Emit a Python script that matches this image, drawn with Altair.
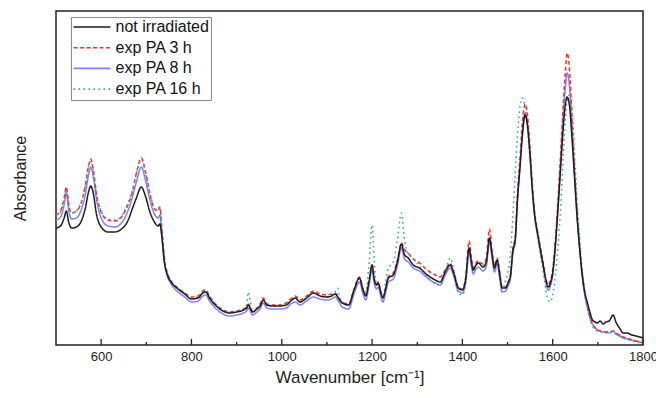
import altair as alt
import pandas as pd

# Wavenumber grid [cm^-1]
wavenumber = [500, 510, 518, 523, 528, 535, 545, 555, 565, 572, 577, 582, 590, 600, 615, 630, 645, 660, 668, 678,
              689, 698, 708, 718, 726, 730, 734, 740, 746, 755, 770, 785, 800, 815, 825, 832, 840, 855, 870, 885,
              900, 915, 922, 926, 930, 935, 945, 952, 959, 967, 980, 995, 1010, 1020, 1030, 1040, 1055, 1070, 1085, 1100,
              1110, 1118, 1124, 1128, 1134, 1148, 1160, 1172, 1180, 1186, 1193, 1200, 1205, 1210, 1214, 1218, 1224, 1230, 1236, 1247,
              1256, 1265, 1272, 1280, 1291, 1305, 1322, 1340, 1351, 1362, 1373, 1380, 1391, 1400, 1407, 1415, 1420, 1424, 1430, 1435,
              1446, 1453, 1460, 1466, 1471, 1477, 1482, 1488, 1496, 1501, 1506, 1512, 1517, 1522, 1528, 1533, 1539, 1544, 1549, 1555,
              1560, 1566, 1573, 1579, 1585, 1590, 1595, 1600, 1606, 1612, 1618, 1623, 1628, 1632, 1637, 1643, 1648, 1654, 1660, 1665,
              1671, 1677, 1683, 1688, 1694, 1699, 1705, 1712, 1718, 1725, 1734, 1740, 1748, 1756, 1765, 1775, 1785, 1793, 1800]

not_irradiated = [1.17, 1.19, 1.27, 1.34, 1.23, 1.17, 1.18, 1.23, 1.37, 1.53, 1.59, 1.53, 1.30, 1.18, 1.13, 1.13, 1.16, 1.25, 1.35, 1.47,
                  1.58, 1.49, 1.33, 1.23, 1.19, 1.21, 1.10, 0.83, 0.71, 0.63, 0.56, 0.51, 0.46, 0.47, 0.52, 0.53, 0.47, 0.39, 0.34, 0.32,
                  0.33, 0.35, 0.37, 0.40, 0.37, 0.33, 0.36, 0.39, 0.45, 0.40, 0.39, 0.39, 0.40, 0.44, 0.47, 0.43, 0.47, 0.52, 0.49, 0.48,
                  0.49, 0.51, 0.48, 0.45, 0.42, 0.40, 0.55, 0.67, 0.55, 0.49, 0.63, 0.80, 0.65, 0.60, 0.62, 0.55, 0.47, 0.56, 0.67, 0.70,
                  0.83, 1.01, 0.90, 0.87, 0.80, 0.77, 0.70, 0.65, 0.63, 0.73, 0.80, 0.73, 0.57, 0.55, 0.65, 0.97, 0.83, 0.75, 0.80, 0.82,
                  0.78, 0.83, 1.07, 0.90, 0.77, 0.85, 0.73, 0.57, 0.57, 0.62, 0.68, 0.95, 1.05, 1.45, 1.80, 2.10, 2.30, 2.20, 1.95, 1.55,
                  1.30, 1.13, 0.95, 0.80, 0.65, 0.58, 0.62, 0.72, 1.00, 1.38, 1.80, 2.15, 2.40, 2.48, 2.40, 2.05, 1.70, 1.28, 0.95, 0.72,
                  0.53, 0.42, 0.32, 0.25, 0.23, 0.22, 0.24, 0.21, 0.23, 0.24, 0.30, 0.23, 0.17, 0.12, 0.12, 0.10, 0.09, 0.08, 0.07]

exp_pa_3h = [1.30, 1.34, 1.47, 1.58, 1.41, 1.32, 1.34, 1.41, 1.60, 1.79, 1.86, 1.77, 1.50, 1.33, 1.25, 1.24, 1.28, 1.41, 1.51, 1.72,
             1.87, 1.74, 1.51, 1.36, 1.34, 1.38, 1.19, 0.87, 0.73, 0.64, 0.57, 0.52, 0.48, 0.49, 0.54, 0.55, 0.49, 0.40, 0.35, 0.33,
             0.34, 0.36, 0.38, 0.41, 0.38, 0.34, 0.37, 0.41, 0.47, 0.41, 0.40, 0.40, 0.42, 0.46, 0.49, 0.45, 0.49, 0.54, 0.51, 0.50,
             0.51, 0.52, 0.49, 0.46, 0.43, 0.41, 0.56, 0.68, 0.56, 0.50, 0.64, 0.80, 0.66, 0.61, 0.63, 0.56, 0.48, 0.57, 0.68, 0.72,
             0.85, 1.02, 0.95, 0.92, 0.86, 0.82, 0.75, 0.70, 0.68, 0.75, 0.82, 0.75, 0.58, 0.56, 0.67, 1.04, 0.87, 0.77, 0.82, 0.84,
             0.81, 0.87, 1.16, 0.93, 0.79, 0.87, 0.75, 0.58, 0.58, 0.63, 0.69, 0.97, 1.09, 1.52, 1.90, 2.23, 2.41, 2.30, 2.02, 1.60,
             1.33, 1.15, 0.97, 0.82, 0.66, 0.60, 0.65, 0.75, 1.05, 1.47, 1.95, 2.37, 2.73, 2.92, 2.77, 2.25, 1.80, 1.33, 0.97, 0.73,
             0.53, 0.39, 0.27, 0.21, 0.17, 0.15, 0.14, 0.13, 0.13, 0.13, 0.14, 0.12, 0.10, 0.08, 0.07, 0.05, 0.04, 0.03, 0.02]

exp_pa_8h = [1.25, 1.28, 1.40, 1.52, 1.35, 1.26, 1.27, 1.34, 1.51, 1.70, 1.78, 1.70, 1.45, 1.27, 1.19, 1.18, 1.22, 1.35, 1.46, 1.63,
             1.78, 1.65, 1.45, 1.31, 1.27, 1.30, 1.12, 0.83, 0.70, 0.61, 0.53, 0.48, 0.43, 0.44, 0.49, 0.50, 0.44, 0.36, 0.31, 0.29,
             0.30, 0.32, 0.34, 0.37, 0.34, 0.30, 0.33, 0.36, 0.42, 0.37, 0.36, 0.36, 0.37, 0.41, 0.43, 0.40, 0.44, 0.48, 0.46, 0.45,
             0.46, 0.48, 0.45, 0.42, 0.38, 0.36, 0.51, 0.63, 0.51, 0.45, 0.59, 0.75, 0.61, 0.56, 0.58, 0.51, 0.43, 0.52, 0.63, 0.66,
             0.79, 0.97, 0.86, 0.83, 0.77, 0.74, 0.67, 0.62, 0.60, 0.70, 0.77, 0.70, 0.54, 0.52, 0.62, 0.93, 0.79, 0.71, 0.76, 0.78,
             0.74, 0.79, 1.03, 0.86, 0.73, 0.81, 0.69, 0.53, 0.54, 0.59, 0.65, 0.92, 1.03, 1.45, 1.82, 2.14, 2.32, 2.22, 1.95, 1.55,
             1.29, 1.11, 0.93, 0.78, 0.62, 0.55, 0.59, 0.70, 1.00, 1.40, 1.87, 2.27, 2.57, 2.72, 2.60, 2.15, 1.75, 1.30, 0.95, 0.70,
             0.50, 0.37, 0.27, 0.21, 0.17, 0.15, 0.14, 0.13, 0.13, 0.12, 0.14, 0.11, 0.09, 0.07, 0.06, 0.05, 0.04, 0.03, 0.02]

exp_pa_16h = [1.30, 1.33, 1.45, 1.56, 1.40, 1.32, 1.34, 1.42, 1.59, 1.78, 1.84, 1.75, 1.50, 1.34, 1.26, 1.25, 1.29, 1.43, 1.53, 1.71,
              1.85, 1.72, 1.52, 1.37, 1.35, 1.39, 1.19, 0.87, 0.73, 0.64, 0.57, 0.52, 0.47, 0.48, 0.53, 0.54, 0.48, 0.39, 0.34, 0.32,
              0.34, 0.36, 0.40, 0.53, 0.45, 0.33, 0.36, 0.39, 0.45, 0.40, 0.39, 0.39, 0.40, 0.44, 0.47, 0.43, 0.47, 0.52, 0.49, 0.48,
              0.50, 0.53, 0.57, 0.49, 0.42, 0.40, 0.55, 0.66, 0.54, 0.53, 0.80, 1.20, 0.83, 0.60, 0.61, 0.54, 0.49, 0.63, 0.77, 0.83,
              1.05, 1.32, 1.05, 0.91, 0.87, 0.79, 0.69, 0.61, 0.60, 0.73, 0.87, 0.77, 0.52, 0.50, 0.61, 0.93, 0.83, 0.73, 0.79, 0.83,
              0.79, 0.83, 1.05, 0.90, 0.77, 0.83, 0.69, 0.55, 0.65, 0.73, 0.90, 1.30, 1.70, 2.10, 2.40, 2.47, 2.37, 2.17, 1.90, 1.55,
              1.30, 1.10, 0.90, 0.73, 0.55, 0.45, 0.43, 0.50, 0.70, 1.00, 1.40, 1.85, 2.25, 2.45, 2.50, 2.35, 1.95, 1.45, 1.05, 0.77,
              0.53, 0.37, 0.25, 0.19, 0.15, 0.14, 0.13, 0.13, 0.12, 0.12, 0.13, 0.11, 0.09, 0.07, 0.06, 0.04, 0.03, 0.02, 0.01]

series_names = ["not irradiated", "exp PA 3 h", "exp PA 8 h", "exp PA 16 h"]
series_colors = ["#1c1c1c", "#ff2a2a", "#7f7fff", "#2fa89e"]
series_dashes = [[1, 0], [4, 2.5], [1, 0], [1.6, 3.4]]

major_ticks = [600, 800, 1000, 1200, 1400, 1600, 1800]
minor_ticks = [700, 900, 1100, 1300, 1500, 1700]

series_values = {
    "exp PA 8 h": exp_pa_8h,
    "exp PA 3 h": exp_pa_3h,
    "exp PA 16 h": exp_pa_16h,
    "not irradiated": not_irradiated,
}
for name, vals in series_values.items():
    assert len(vals) == len(wavenumber), (name, len(vals), len(wavenumber))

rows = []
for name, vals in series_values.items():
    for w, a in zip(wavenumber, vals):
        rows.append({"wavenumber": w, "absorbance": a, "sample": name})
df = pd.DataFrame(rows)

x_scale = alt.Scale(domain=[500, 1800], nice=False, zero=False)
x_axis = alt.Axis(values=major_ticks, format="d", ticks=False, domain=False, grid=False,
                  labelFontSize=13, labelFont="Liberation Sans", labelColor="#222", labelPadding=5,
                  labelFlush=False, labelOverlap=False,
                  title="Wavenumber [cm⁻¹]", titleFont="Liberation Sans", titleFontSize=17,
                  titleFontWeight="normal", titleColor="#222", titleY=32, titleBaseline="middle")

legend_kw = dict(orient="none", legendX=15, legendY=6, title=None,
                 symbolType="stroke", symbolSize=1369, symbolStrokeWidth=1.6,
                 labelFontSize=16, labelFont="Liberation Sans", labelColor="#111",
                 strokeColor="#888", fillColor="white", padding=1.5,
                 clipHeight=17, rowPadding=3.7, labelOffset=4)

lines = alt.Chart(df).mark_line(strokeWidth=1.5, interpolate="monotone").encode(
    x=alt.X("wavenumber:Q", scale=x_scale, axis=x_axis),
    y=alt.Y("absorbance:Q", scale=alt.Scale(domain=[0, 3.34], nice=False),
            axis=alt.Axis(labels=False, ticks=False, domain=False, grid=False,
                          title="Absorbance", titleFont="Liberation Sans", titleFontSize=16,
                          titleFontWeight="normal", titleColor="#222", titleX=-36, titleY=167,
                          titleBaseline="middle")),
    color=alt.Color("sample:N", scale=alt.Scale(domain=series_names, range=series_colors),
                    legend=alt.Legend(**legend_kw)),
    strokeDash=alt.StrokeDash("sample:N", scale=alt.Scale(domain=series_names, range=series_dashes),
                              legend=alt.Legend(**legend_kw)),
)

major_df = pd.DataFrame({"wavenumber": major_ticks})
minor_df = pd.DataFrame({"wavenumber": minor_ticks})

major_rule = alt.Chart(major_df).mark_rule(color="#222", strokeWidth=1.3).encode(
    x=alt.X("wavenumber:Q", scale=x_scale, axis=x_axis),
    y=alt.value(334), y2=alt.value(328))
minor_rule = alt.Chart(minor_df).mark_rule(color="#222", strokeWidth=1.3).encode(
    x=alt.X("wavenumber:Q", scale=x_scale, axis=x_axis),
    y=alt.value(334), y2=alt.value(331))

chart = alt.layer(lines, major_rule, minor_rule).properties(
    width=587, height=334,
    autosize=alt.AutoSizeParams(type="none"),
    padding={"left": 56, "top": 11, "right": 13, "bottom": 53},
    background="white",
).configure_view(stroke="#222", strokeWidth=1.5)

chart.save("out.html", embed_options={"renderer": "svg", "actions": False})
